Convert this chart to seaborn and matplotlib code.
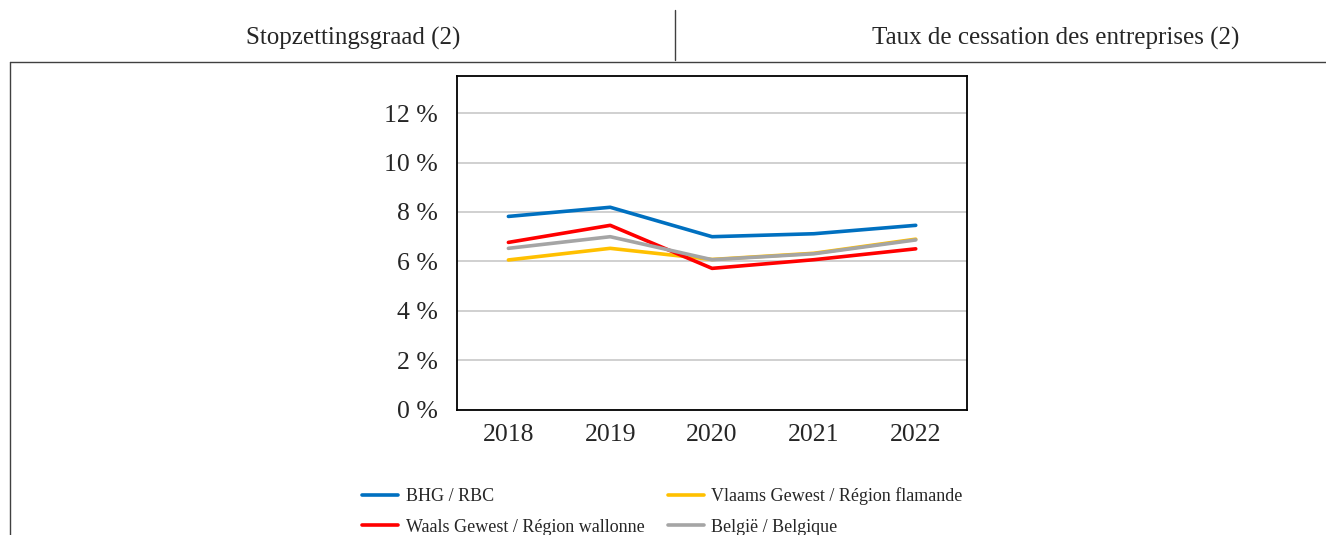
import matplotlib
matplotlib.use('Agg')
from matplotlib import pyplot as plt
from matplotlib.lines import Line2D
import pandas as pd
import seaborn as sns

years = ['2018', '2019', '2020', '2021', '2022']
bhg = [7.82, 8.19, 7.00, 7.12, 7.46]
vlaams = [6.06, 6.53, 6.08, 6.33, 6.90]
waals = [6.77, 7.46, 5.72, 6.07, 6.51]
belgie = [6.53, 7.00, 6.07, 6.31, 6.87]

names = ['BHG / RBC', 'Vlaams Gewest / Région flamande',
         'Waals Gewest / Région wallonne', 'België / Belgique']
colors = ['#0070C0', '#FFC000', '#FF0000', '#A5A5A5']

df = pd.DataFrame({
    'year': years * 4,
    'rate': bhg + vlaams + waals + belgie,
    'region': [n for n in names for _ in years],
})

sns.set_style('white')
plt.rcParams['font.family'] = ['Liberation Serif', 'DejaVu Serif']

fig = plt.figure(figsize=(13.26, 5.35), dpi=100)
ax = fig.add_axes([0.345, 0.234, 0.384, 0.624])
sns.lineplot(data=df, x='year', y='rate', hue='region', hue_order=names,
             palette=colors, linewidth=2.6, sort=False, ax=ax, legend=False)

ax.set_xlim(-0.5, 4.5)
ax.set_ylim(0, 13.5)
ax.set_yticks([0, 2, 4, 6, 8, 10, 12])
ax.set_yticklabels([f'{v} %' for v in [0, 2, 4, 6, 8, 10, 12]])
ax.yaxis.grid(True, color='#C8C8C8', linewidth=1.2)
ax.set_axisbelow(True)
ax.tick_params(axis='both', length=0, labelsize=18.5)
ax.tick_params(axis='y', pad=14)
ax.tick_params(axis='x', pad=10)
ax.set_xlabel('')
ax.set_ylabel('')
for s in ax.spines.values():
    s.set_visible(True)
    s.set_color('black')
    s.set_linewidth(1.3)

# legend: two columns, row-wise order like the original
handles = [Line2D([], [], color=c, linewidth=2.6) for c in colors]
order = [0, 2, 1, 3]
fig.legend([handles[i] for i in order], [names[i] for i in order],
           loc='center left', bbox_to_anchor=(0.261, 0.044), ncol=2,
           frameon=False, fontsize=13, handlelength=2.0, handletextpad=0.4,
           columnspacing=1.3, labelspacing=0.75)

# table-style header
fig.text(0.266, 0.928, 'Stopzettingsgraad (2)', ha='center', va='center',
         fontsize=18)
fig.text(0.796, 0.928, 'Taux de cessation des entreprises (2)', ha='center',
         va='center', fontsize=18)
fig.add_artist(Line2D([0.509, 0.509], [0.888, 0.982], color='#404040',
                      linewidth=1, transform=fig.transFigure))
fig.add_artist(Line2D([0.0075, 1.0], [0.884, 0.884], color='#404040',
                      linewidth=1, transform=fig.transFigure))
fig.add_artist(Line2D([0.0075, 0.0075], [0.0, 0.884], color='#404040',
                      linewidth=1, transform=fig.transFigure))

plt.savefig('out.png', dpi=100)
